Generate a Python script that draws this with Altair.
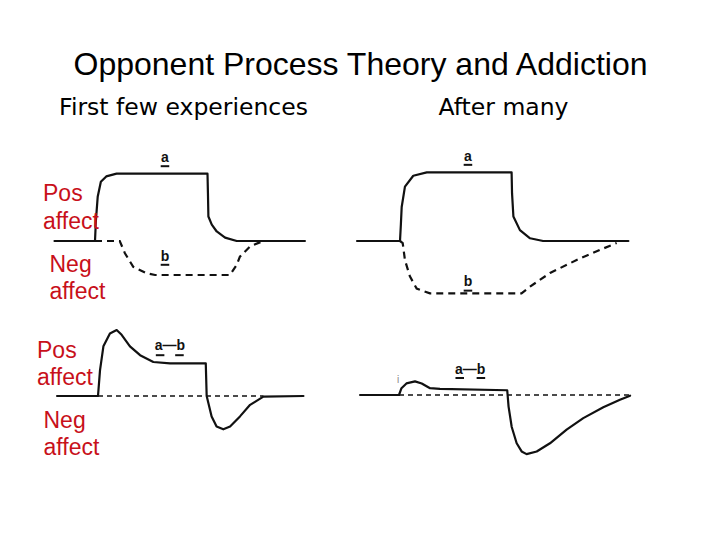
import altair as alt
import pandas as pd

# ---------------- text ----------------
title_text = "Opponent Process Theory and Addiction"
col_titles = ["First few experiences", "After many"]
side_words = ["Pos", "affect", "Neg", "affect"]

# ---------------- curve data ----------------
# time: stimulus on at 0, off at ~50 (arbitrary units); level: affect (+ pleasant, - unpleasant)
tl_a_t = [-18, 0, 0.4, 1.2, 2.6, 5.0, 9.6, 50.0, 50.2, 50.4, 51.9, 54.1, 57.8, 63.0, 93.3]
tl_a_v = [0, 0, 0.3, 0.65, 0.87, 0.95, 0.99, 0.99, 0.7, 0.36, 0.24, 0.14, 0.05, 0, 0]
tl_b_t = [0, 11, 13.3, 17, 23, 26.7, 60, 63, 64.4, 68.9, 74]
tl_b_v = [0, 0, -0.18, -0.38, -0.475, -0.5, -0.5, -0.35, -0.23, -0.08, -0.01]

tr_a_t = [-19.1, 0, 0.4, 0.75, 2.2, 5.9, 11.9, 49.6, 49.8, 50.4, 53.3, 57.8, 63.6, 101.5]
tr_a_v = [0, 0, 0.25, 0.5, 0.8, 0.96, 1.01, 1.01, 0.7, 0.36, 0.16, 0.04, 0, 0]
tr_b_t = [0, 1.2, 2.2, 4.4, 7.4, 13.3, 54, 57.8, 66.7, 78.5, 88.9, 96.3]
tr_b_v = [0, -0.03, -0.28, -0.52, -0.70, -0.77, -0.77, -0.67, -0.47, -0.28, -0.13, -0.03]

bl_t = [-18.2, 0, 0.9, 2.4, 5.3, 8.3, 10.5, 14.2, 18.7, 24.6, 32, 47.9, 48.3, 50.5,
        52.7, 55.7, 58.7, 63.1, 67.6, 73.5, 91.3]
bl_v = [0, 0, 0.38, 0.73, 0.92, 0.97, 0.9, 0.73, 0.6, 0.5, 0.48, 0.48, 0, -0.3,
        -0.45, -0.49, -0.45, -0.3, -0.13, -0.01, 0]
bl_zero_t = [0, 73.5]
bl_zero_v = [0, 0]

br_t = [-17.3, 0, 1.1, 3.3, 7.1, 10.1, 13.8, 18.2, 48.1, 48.7, 50.1, 52.3, 54.5, 56.7,
        61.2, 67.1, 74.5, 81.9, 90.8, 98.2, 102.7]
br_v = [0, 0, 0.1, 0.17, 0.2, 0.17, 0.1, 0.09, 0.07, -0.17, -0.47, -0.71, -0.83, -0.87,
        -0.83, -0.71, -0.51, -0.34, -0.18, -0.07, -0.01]
br_zero_t = [0, 103.5]
br_zero_v = [0, 0]

# process labels
lab_panel = ["TL", "TL", "TR", "TR", "BL", "BR"]
lab_text = ["a", "b", "a", "b", "a\u2014b", "a\u2014b"]
lab_t = [31.1, 31.1, 30.2, 30.2, 32.0, 31.6]
lab_v = [1.16, -0.29, 1.18, -0.66, 0.67, 0.31]
ul_panel = ["TL", "TL", "TR", "TR", "BL", "BL", "BR", "BR"]
ul_t = [31.1, 31.1, 30.2, 30.2, 27.6, 36.2, 27.0, 36.4]
ul_v = [1.10, -0.35, 1.12, -0.73, 0.60, 0.60, 0.25, 0.25]

# ---------------- layout (screen px) ----------------
M = 8
W, H = 720 - 2 * M, 540 - 2 * M
KT, KV = 2.25, 68.0
PANELS = {"TL": (95, 241), "TR": (400, 241), "BL": (98, 396), "BR": (399, 395)}

curves = [
    ("TL", "a", "solid", tl_a_t, tl_a_v),
    ("TL", "b", "dash", tl_b_t, tl_b_v),
    ("TR", "a", "solid", tr_a_t, tr_a_v),
    ("TR", "b", "dash", tr_b_t, tr_b_v),
    ("BL", "ab", "solid", bl_t, bl_v),
    ("BL", "zero", "fine", bl_zero_t, bl_zero_v),
    ("BR", "ab", "solid", br_t, br_v),
    ("BR", "zero", "fine", br_zero_t, br_zero_v),
]
rows = []
for p, s, st, ts, vs in curves:
    x0, y0 = PANELS[p]
    for i, (t, v) in enumerate(zip(ts, vs)):
        rows.append(dict(key=p + s, style=st, i=i, t=t, v=v, x0=x0, y0=y0))
df = pd.DataFrame(rows)

lab_df = pd.DataFrame(dict(text=lab_text, t=lab_t, v=lab_v,
                           x0=[PANELS[p][0] for p in lab_panel],
                           y0=[PANELS[p][1] for p in lab_panel]))
ul_df = pd.DataFrame(dict(t=ul_t, v=ul_v,
                          x0=[PANELS[p][0] for p in ul_panel],
                          y0=[PANELS[p][1] for p in ul_panel]))

px_expr = f"datum.x0 + datum.t * {KT} - {M}"
py_expr = f"datum.y0 - datum.v * {KV} - {M}"

xs = alt.Scale(domain=[0, W], nice=False, zero=False)
ys = alt.Scale(domain=[0, H], nice=False, zero=False, reverse=True)
X = alt.X("px:Q", scale=xs, axis=None)
Y = alt.Y("py:Q", scale=ys, axis=None)

base = alt.Chart(df).transform_calculate(px=px_expr, py=py_expr)

solid = base.transform_filter(alt.datum.style == "solid").mark_line(
    color="#111111", strokeWidth=2.2, strokeJoin="round", strokeCap="round"
).encode(x=X, y=Y, detail="key:N", order="i:Q")

dash = base.transform_filter(alt.datum.style == "dash").mark_line(
    color="#111111", strokeWidth=2.2, strokeDash=[7, 5]
).encode(x=X, y=Y, detail="key:N", order="i:Q")

fine = base.transform_filter(alt.datum.style == "fine").mark_line(
    color="#111111", strokeWidth=1.6, strokeDash=[5, 4]
).encode(x=X, y=Y, detail="key:N", order="i:Q")

labels = alt.Chart(lab_df).transform_calculate(px=px_expr, py=py_expr).mark_text(
    font="Liberation Sans", fontSize=14, fontWeight="bold", color="#111111",
    align="center", baseline="alphabetic"
).encode(x=X, y=Y, text="text:N")

underl = alt.Chart(ul_df).transform_calculate(
    px=f"datum.x0 + (datum.t - 1.9) * {KT} - {M}",
    px2=f"datum.x0 + (datum.t + 1.9) * {KT} - {M}",
    py=py_expr,
).mark_rule(color="#111111", strokeWidth=2).encode(x=X, x2="px2:Q", y=Y)

# small marker at onset in the lower-right panel
tick_df = pd.DataFrame(dict(text=["i"], t=[-0.4], v=[0.18], x0=[PANELS["BR"][0]], y0=[PANELS["BR"][1]]))
tick = alt.Chart(tick_df).transform_calculate(px=px_expr, py=py_expr).mark_text(
    font="Liberation Sans", fontSize=10, color="#888888", baseline="alphabetic"
).encode(x=X, y=Y, text="text:N")

# side labels
side_df = pd.DataFrame(dict(
    text=side_words * 2,
    px=[43 - M, 43 - M, 49.5 - M, 49.5 - M, 37 - M, 37 - M, 43.5 - M, 43.5 - M],
    py=[200.5 - M, 228.5 - M, 272 - M, 299 - M, 357.5 - M, 385 - M, 428 - M, 455 - M],
))
side = alt.Chart(side_df).mark_text(
    font="Liberation Sans", fontSize=23, color="#c8101a", align="left", baseline="alphabetic"
).encode(x=X, y=Y, text="text:N")

# titles
head_df = pd.DataFrame(dict(text=[title_text], px=[360.5 - M], py=[75 - M]))
head = alt.Chart(head_df).mark_text(
    font="Liberation Sans", fontSize=32, color="#000000", align="center", baseline="alphabetic"
).encode(x=X, y=Y, text="text:N")

sub_df = pd.DataFrame(dict(text=col_titles, px=[183.5 - M, 503.5 - M], py=[114.5 - M, 114.5 - M]))
sub = alt.Chart(sub_df).mark_text(
    font="DejaVu Sans", fontSize=23.5, color="#000000", align="center", baseline="alphabetic"
).encode(x=X, y=Y, text="text:N")

chart = alt.layer(solid, dash, fine, underl, labels, tick, side, head, sub).properties(
    width=W, height=H, padding=0, autosize=alt.AutoSizeParams(type="none"),
    background="white",
).configure_view(stroke=None)

chart.save("out.html", embed_options={"renderer": "svg", "actions": False})
